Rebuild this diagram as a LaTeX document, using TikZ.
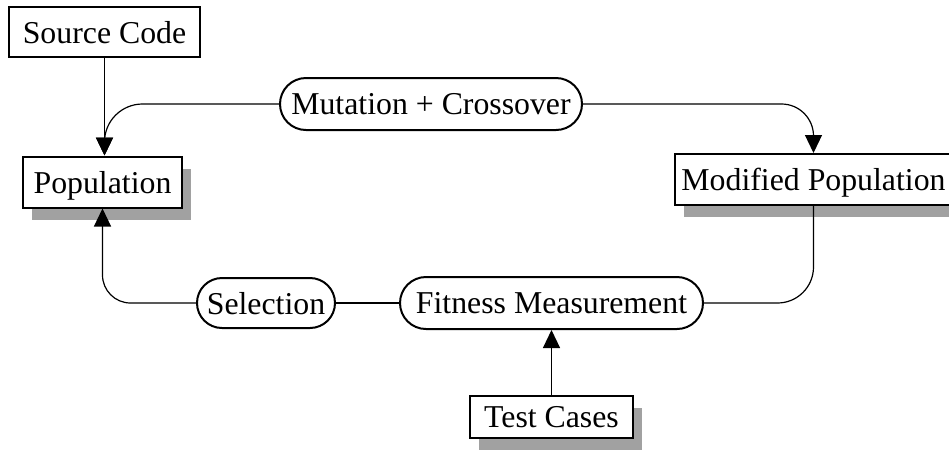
\documentclass[tikz,border=0pt]{standalone}
\usepackage{fontspec}
\setmainfont{Liberation Serif}
\usetikzlibrary{arrows.meta,shapes.misc,shadows}

\tikzset{
  lbl/.style={font=\fontsize{15.9pt}{18pt}\selectfont, inner sep=0pt, text depth=0pt},
  box/.style={lbl, draw, line width=1pt, fill=white, rectangle},
  shadowbox/.style={box, drop shadow={shadow xshift=4.5pt, shadow yshift=-6pt, fill=black!37, opacity=1}},
  pill/.style={lbl, draw, line width=1pt, fill=white, rounded rectangle},
  link/.style={line width=0.6pt},
  arr/.style={link, -{Triangle[length=9pt,width=8.5pt]}},
}

\begin{document}
\begin{tikzpicture}[x=0.5pt, y=-0.5pt]
  \useasboundingbox (0,0) rectangle (949,452);

  % boxes
  \node[box, minimum width=95.5pt, minimum height=25pt] (src) at (104.5,32) {Source Code};
  \node[shadowbox, minimum width=79.5pt, minimum height=25.5pt] (pop) at (102.5,182) {Population};
  \node[shadowbox, minimum width=138.5pt, minimum height=25.5pt] (mod) at (813.5,179.5) {Modified Population};
  \node[shadowbox, minimum width=81.5pt, minimum height=21pt] (tc) at (551.5,417) {Test Cases};

  % rounded operation nodes
  \node[pill, minimum width=151pt, minimum height=26pt] (mut) at (431,104) {Mutation + Crossover};
  \node[pill, minimum width=69pt, minimum height=25pt] (sel) at (266,303) {Selection};
  \node[pill, minimum width=151.5pt, minimum height=26pt] (fit) at (551.5,303) {Fitness Measurement\hspace{6pt}};

  % connectors
  \draw[arr] (src.south) -- (src.south |- pop.north);
  \draw[arr, rounded corners=19pt] (mut.west) -| (src.south |- pop.north);
  \draw[arr, rounded corners=16pt] (mut.east) -| (mod.north);
  \draw[link, rounded corners=18pt] (mod.south) |- (fit.east);
  \draw[link] (fit.west) -- (sel.east);
  \draw[arr, rounded corners=14pt] (sel.west) -| (pop.south);
  \draw[arr] (tc.north) -- (fit.south);
\end{tikzpicture}
\end{document}
